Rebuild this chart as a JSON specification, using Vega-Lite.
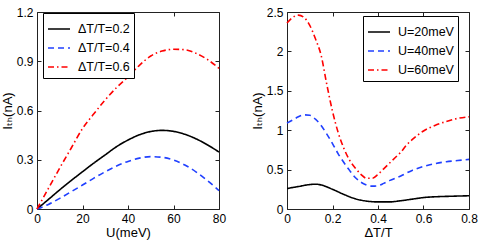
{
  "$schema": "https://vega.github.io/schema/vega-lite/v6.json",
  "padding": {"left": 0, "top": 5, "right": 0, "bottom": 0},
  "spacing": 23,
  "datasets": {
    "left": [
      {"U": 0, "I": 0, "s": "ΔT/T=0.2"}, {"U": 5, "I": 0.058, "s": "ΔT/T=0.2"}, {"U": 10, "I": 0.117, "s": "ΔT/T=0.2"}, {"U": 15, "I": 0.173, "s": "ΔT/T=0.2"}, {"U": 20, "I": 0.227, "s": "ΔT/T=0.2"}, {"U": 25, "I": 0.28, "s": "ΔT/T=0.2"}, {"U": 30, "I": 0.33, "s": "ΔT/T=0.2"}, {"U": 35, "I": 0.38, "s": "ΔT/T=0.2"}, {"U": 40, "I": 0.42, "s": "ΔT/T=0.2"}, {"U": 45, "I": 0.452, "s": "ΔT/T=0.2"}, {"U": 50, "I": 0.472, "s": "ΔT/T=0.2"}, {"U": 55, "I": 0.479, "s": "ΔT/T=0.2"}, {"U": 60, "I": 0.473, "s": "ΔT/T=0.2"}, {"U": 65, "I": 0.455, "s": "ΔT/T=0.2"}, {"U": 70, "I": 0.427, "s": "ΔT/T=0.2"}, {"U": 75, "I": 0.39, "s": "ΔT/T=0.2"}, {"U": 80, "I": 0.347, "s": "ΔT/T=0.2"},
      {"U": 0, "I": 0, "s": "ΔT/T=0.4"}, {"U": 5, "I": 0.028, "s": "ΔT/T=0.4"}, {"U": 10, "I": 0.065, "s": "ΔT/T=0.4"}, {"U": 15, "I": 0.105, "s": "ΔT/T=0.4"}, {"U": 20, "I": 0.146, "s": "ΔT/T=0.4"}, {"U": 25, "I": 0.188, "s": "ΔT/T=0.4"}, {"U": 30, "I": 0.227, "s": "ΔT/T=0.4"}, {"U": 35, "I": 0.262, "s": "ΔT/T=0.4"}, {"U": 40, "I": 0.29, "s": "ΔT/T=0.4"}, {"U": 45, "I": 0.31, "s": "ΔT/T=0.4"}, {"U": 50, "I": 0.319, "s": "ΔT/T=0.4"}, {"U": 55, "I": 0.315, "s": "ΔT/T=0.4"}, {"U": 60, "I": 0.298, "s": "ΔT/T=0.4"}, {"U": 65, "I": 0.268, "s": "ΔT/T=0.4"}, {"U": 70, "I": 0.225, "s": "ΔT/T=0.4"}, {"U": 75, "I": 0.172, "s": "ΔT/T=0.4"}, {"U": 80, "I": 0.112, "s": "ΔT/T=0.4"},
      {"U": 0, "I": 0, "s": "ΔT/T=0.6"}, {"U": 5, "I": 0.125, "s": "ΔT/T=0.6"}, {"U": 10, "I": 0.25, "s": "ΔT/T=0.6"}, {"U": 15, "I": 0.37, "s": "ΔT/T=0.6"}, {"U": 20, "I": 0.49, "s": "ΔT/T=0.6"}, {"U": 25, "I": 0.58, "s": "ΔT/T=0.6"}, {"U": 30, "I": 0.665, "s": "ΔT/T=0.6"}, {"U": 35, "I": 0.74, "s": "ΔT/T=0.6"}, {"U": 40, "I": 0.805, "s": "ΔT/T=0.6"}, {"U": 45, "I": 0.875, "s": "ΔT/T=0.6"}, {"U": 50, "I": 0.932, "s": "ΔT/T=0.6"}, {"U": 55, "I": 0.962, "s": "ΔT/T=0.6"}, {"U": 60, "I": 0.973, "s": "ΔT/T=0.6"}, {"U": 65, "I": 0.97, "s": "ΔT/T=0.6"}, {"U": 70, "I": 0.948, "s": "ΔT/T=0.6"}, {"U": 75, "I": 0.91, "s": "ΔT/T=0.6"}, {"U": 80, "I": 0.857, "s": "ΔT/T=0.6"}
    ],
    "right": [
      {"t": 0, "I": 0.26, "s": "U=20meV"}, {"t": 0.05, "I": 0.285, "s": "U=20meV"}, {"t": 0.1, "I": 0.31, "s": "U=20meV"}, {"t": 0.125, "I": 0.315, "s": "U=20meV"}, {"t": 0.15, "I": 0.305, "s": "U=20meV"}, {"t": 0.2, "I": 0.25, "s": "U=20meV"}, {"t": 0.25, "I": 0.185, "s": "U=20meV"}, {"t": 0.3, "I": 0.13, "s": "U=20meV"}, {"t": 0.35, "I": 0.1, "s": "U=20meV"}, {"t": 0.4, "I": 0.09, "s": "U=20meV"}, {"t": 0.45, "I": 0.09, "s": "U=20meV"}, {"t": 0.5, "I": 0.105, "s": "U=20meV"}, {"t": 0.55, "I": 0.125, "s": "U=20meV"}, {"t": 0.6, "I": 0.145, "s": "U=20meV"}, {"t": 0.65, "I": 0.155, "s": "U=20meV"}, {"t": 0.7, "I": 0.16, "s": "U=20meV"}, {"t": 0.8, "I": 0.168, "s": "U=20meV"},
      {"t": 0, "I": 1.09, "s": "U=40meV"}, {"t": 0.025, "I": 1.13, "s": "U=40meV"}, {"t": 0.05, "I": 1.17, "s": "U=40meV"}, {"t": 0.075, "I": 1.195, "s": "U=40meV"}, {"t": 0.1, "I": 1.19, "s": "U=40meV"}, {"t": 0.125, "I": 1.14, "s": "U=40meV"}, {"t": 0.15, "I": 1.06, "s": "U=40meV"}, {"t": 0.175, "I": 0.95, "s": "U=40meV"}, {"t": 0.2, "I": 0.83, "s": "U=40meV"}, {"t": 0.225, "I": 0.7, "s": "U=40meV"}, {"t": 0.25, "I": 0.59, "s": "U=40meV"}, {"t": 0.275, "I": 0.49, "s": "U=40meV"}, {"t": 0.3, "I": 0.4, "s": "U=40meV"}, {"t": 0.325, "I": 0.34, "s": "U=40meV"}, {"t": 0.35, "I": 0.305, "s": "U=40meV"}, {"t": 0.375, "I": 0.29, "s": "U=40meV"}, {"t": 0.4, "I": 0.295, "s": "U=40meV"}, {"t": 0.425, "I": 0.325, "s": "U=40meV"}, {"t": 0.45, "I": 0.36, "s": "U=40meV"}, {"t": 0.5, "I": 0.42, "s": "U=40meV"}, {"t": 0.55, "I": 0.49, "s": "U=40meV"}, {"t": 0.6, "I": 0.54, "s": "U=40meV"}, {"t": 0.65, "I": 0.575, "s": "U=40meV"}, {"t": 0.7, "I": 0.6, "s": "U=40meV"}, {"t": 0.75, "I": 0.615, "s": "U=40meV"}, {"t": 0.8, "I": 0.63, "s": "U=40meV"},
      {"t": 0, "I": 2.36, "s": "U=60meV"}, {"t": 0.025, "I": 2.43, "s": "U=60meV"}, {"t": 0.05, "I": 2.46, "s": "U=60meV"}, {"t": 0.075, "I": 2.43, "s": "U=60meV"}, {"t": 0.1, "I": 2.33, "s": "U=60meV"}, {"t": 0.125, "I": 2.16, "s": "U=60meV"}, {"t": 0.15, "I": 1.95, "s": "U=60meV"}, {"t": 0.175, "I": 1.58, "s": "U=60meV"}, {"t": 0.2, "I": 1.24, "s": "U=60meV"}, {"t": 0.225, "I": 0.97, "s": "U=60meV"}, {"t": 0.25, "I": 0.77, "s": "U=60meV"}, {"t": 0.275, "I": 0.62, "s": "U=60meV"}, {"t": 0.3, "I": 0.52, "s": "U=60meV"}, {"t": 0.325, "I": 0.44, "s": "U=60meV"}, {"t": 0.35, "I": 0.39, "s": "U=60meV"}, {"t": 0.375, "I": 0.39, "s": "U=60meV"}, {"t": 0.4, "I": 0.44, "s": "U=60meV"}, {"t": 0.425, "I": 0.51, "s": "U=60meV"}, {"t": 0.45, "I": 0.58, "s": "U=60meV"}, {"t": 0.475, "I": 0.65, "s": "U=60meV"}, {"t": 0.5, "I": 0.72, "s": "U=60meV"}, {"t": 0.525, "I": 0.81, "s": "U=60meV"}, {"t": 0.55, "I": 0.88, "s": "U=60meV"}, {"t": 0.575, "I": 0.94, "s": "U=60meV"}, {"t": 0.6, "I": 0.99, "s": "U=60meV"}, {"t": 0.65, "I": 1.06, "s": "U=60meV"}, {"t": 0.7, "I": 1.11, "s": "U=60meV"}, {"t": 0.75, "I": 1.15, "s": "U=60meV"}, {"t": 0.8, "I": 1.17, "s": "U=60meV"}
    ]
  },
  "hconcat": [
    {
      "width": 182, "height": 197,
      "data": {"name": "left"},
      "layer": [
        {
          "mark": {"type": "line", "strokeWidth": 1.6, "interpolate": "monotone"},
          "encoding": {
            "x": {"field": "U", "type": "quantitative", "scale": {"domain": [0, 80], "nice": false}, "axis": {"values": [0, 20, 40, 60, 80], "title": "U(meV)"}},
            "y": {"field": "I", "type": "quantitative", "scale": {"domain": [0, 1.2], "nice": false}, "axis": {"values": [0, 0.3, 0.6, 0.9, 1.2], "format": "~g", "title": "Iₜₕ(nA)"}},
            "color": {"field": "s", "type": "nominal", "scale": {"domain": ["ΔT/T=0.2", "ΔT/T=0.4", "ΔT/T=0.6"], "range": ["#000000", "#2040ff", "#ff0000"]}, "legend": {"orient": "none", "legendX": 6, "legendY": 1, "title": null}},
            "strokeDash": {"field": "s", "type": "nominal", "scale": {"domain": ["ΔT/T=0.2", "ΔT/T=0.4", "ΔT/T=0.6"], "range": [[1, 0], [6, 4], [6, 3, 1.5, 3]]}, "legend": {"orient": "none", "legendX": 6, "legendY": 1, "title": null}}
          }
        },
        {
          "mark": {"type": "point", "opacity": 0},
          "encoding": {
            "x": {"field": "U", "type": "quantitative", "scale": {"domain": [0, 80], "nice": false}, "axis": {"orient": "top", "values": [0, 20, 40, 60, 80], "labels": false, "title": null}},
            "y": {"field": "I", "type": "quantitative", "scale": {"domain": [0, 1.2], "nice": false}, "axis": {"orient": "right", "values": [0, 0.3, 0.6, 0.9, 1.2], "labels": false, "title": null}}
          }
        }
      ],
      "resolve": {"scale": {"x": "independent", "y": "independent"}}
    },
    {
      "width": 182, "height": 197,
      "data": {"name": "right"},
      "layer": [
        {
          "mark": {"type": "line", "strokeWidth": 1.6, "interpolate": "monotone"},
          "encoding": {
            "x": {"field": "t", "type": "quantitative", "scale": {"domain": [0, 0.8], "nice": false}, "axis": {"values": [0, 0.2, 0.4, 0.6, 0.8], "format": "~g", "title": "ΔT/T"}},
            "y": {"field": "I", "type": "quantitative", "scale": {"domain": [0, 2.5], "nice": false}, "axis": {"values": [0, 0.5, 1, 1.5, 2, 2.5], "format": "~g", "title": "Iₜₕ(nA)"}},
            "color": {"field": "s", "type": "nominal", "scale": {"domain": ["U=20meV", "U=40meV", "U=60meV"], "range": ["#000000", "#2040ff", "#ff0000"]}, "legend": {"orient": "none", "legendX": 76, "legendY": 4, "title": null}},
            "strokeDash": {"field": "s", "type": "nominal", "scale": {"domain": ["U=20meV", "U=40meV", "U=60meV"], "range": [[1, 0], [6, 4], [6, 3, 1.5, 3]]}, "legend": {"orient": "none", "legendX": 76, "legendY": 4, "title": null}}
          }
        },
        {
          "mark": {"type": "point", "opacity": 0},
          "encoding": {
            "x": {"field": "t", "type": "quantitative", "scale": {"domain": [0, 0.8], "nice": false}, "axis": {"orient": "top", "values": [0, 0.2, 0.4, 0.6, 0.8], "labels": false, "title": null}},
            "y": {"field": "I", "type": "quantitative", "scale": {"domain": [0, 2.5], "nice": false}, "axis": {"orient": "right", "values": [0, 0.5, 1, 1.5, 2, 2.5], "labels": false, "title": null}}
          }
        }
      ],
      "resolve": {"scale": {"x": "independent", "y": "independent", "color": "independent", "strokeDash": "independent"}}
    }
  ],
  "resolve": {"scale": {"color": "independent", "strokeDash": "independent"}, "legend": {"color": "independent", "strokeDash": "independent"}},
  "config": {
    "font": "Liberation Sans, DejaVu Sans",
    "view": {"stroke": "#222222", "strokeWidth": 1},
    "axis": {
      "domain": false, "grid": false, "labelFlush": false,
      "tickSize": -4, "tickColor": "#222222", "tickWidth": 1,
      "labelPadding": 8, "labelFontSize": 12, "labelColor": "#000000",
      "titleFontSize": 13, "titleFontWeight": "normal", "titleColor": "#000000", "titlePadding": 2
    },
    "legend": {
      "strokeColor": "#000000", "fillColor": "#ffffff", "padding": 4,
      "symbolType": "stroke", "symbolSize": 484, "symbolStrokeWidth": 1.6,
      "labelFontSize": 12.5, "labelColor": "#000000", "labelOffset": 7, "rowPadding": -7
    }
  }
}
